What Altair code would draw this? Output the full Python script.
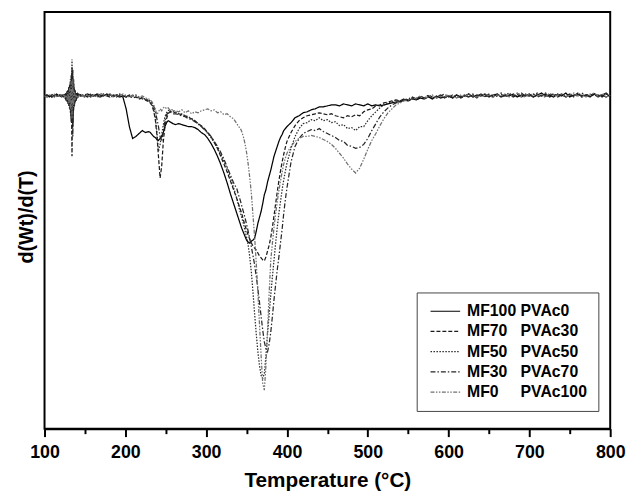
import altair as alt
import pandas as pd

temps = (list(range(100, 125, 3)) + list(range(126, 143)) + list(range(145, 230, 4))
         + list(range(231, 260, 2)) + list(range(262, 339, 4)) + list(range(340, 401, 2))
         + list(range(405, 801, 5)))

# d(Wt)/d(T) in arbitrary units (0 = baseline, negative = mass-loss peak)
mf100 = [1, 2, 0, 2, 1, 3, 1, 2, 2,
         3, -2, 6, -4, 9, -8, 14, -20, 25, -30, 12, -8, 6, -3, 4, 0, 3,
         2, 1, 3, 2, 1, 3, 2, 1, 3, 2, 1, 2, 1, 0, -12, -30, -42, -40, -37, -34, -36, -35,
         -36, -38, -40, -41, -43, -44, -42, -40, -36, -30, -26, -24, -25, -26, -27,
         -28, -27, -28, -29, -30, -30, -31, -33, -36, -38, -42, -47, -53, -60, -68, -77, -87, -98, -108, -118,
         -123, -128, -133, -137, -141, -145, -147, -148, -146, -145, -143, -136, -128, -122, -116, -108,
         -99, -94, -86, -80, -74, -67, -60, -55, -50, -45, -41, -38, -34, -32, -30,
         -26, -21, -19, -16, -15, -13, -12, -10, -10, -9, -8, -8, -9, -7, -8, -9, -7, -8, -9, -7,
         -9, -8, -9, -8, -7, -6, -5, -5, -3, -4, -2, -3, -1, -2, 0, -2, 1, -1, 0, 1,
         -1, 2, 0, 1, 3, 0, 2, 1, 3, 0, 2, 3, 0, 2, 1, 3, 0, 2, 1, 3,
         0, 2, 4, 1, 2, 0, 3, 1, 4, 0, 2, 3, 1, 2, 0, 3, 1, 2, 0, 2]
mf70 = [0, 1, 2, 0, 1, 2, 0, 1, 1,
        -2, 3, -5, 7, -9, 12, -16, 22, -60, 28, -14, 9, -5, 4, -2, 3, 1,
        1, 2, 0, 2, 1, 2, 0, 2, 1, 0, 2, 1, 0, 1, 0, 1, -1, 0, -2, -1, -3, -5,
        -6, -9, -14, -22, -38, -60, -82, -70, -45, -30, -22, -17, -15, -14, -15,
        -16, -17, -18, -19, -21, -22, -24, -27, -29, -32, -36, -40, -46, -52, -60, -68, -76, -85, -94, -103,
        -108, -113, -118, -124, -130, -135, -140, -144, -148, -151, -153, -155, -158, -161, -163, -165,
        -166, -162, -156, -150, -142, -132, -120, -108, -96, -85, -75, -66, -58, -51, -45,
        -36, -29, -24, -21, -19, -18, -17, -16, -17, -18, -17, -19, -20, -21, -19, -20, -18, -19, -15, -13,
        -12, -9, -8, -6, -5, -4, -3, -4, -2, -3, -1, -2, 0, -1, 1, -1, 0, 2, -1, 1,
        0, 2, -1, 1, 0, 2, -1, 3, 1, 2, 0, 1, 3, 0, 2, 1, 3, 0, 2, 1,
        3, 0, 2, 3, 0, 2, 1, 3, 0, 2, 1, 4, 0, 2, 3, 1, 2, 0, 3, 1]
mf50 = [2, 0, 1, 3, 0, 1, 2, 0, 2,
        1, -4, 5, -7, 10, -13, 18, -26, 38, -22, 15, -10, 7, -4, 3, -1, 2,
        2, 0, 1, 3, 2, 0, 1, 3, 2, 1, 0, 2, 3, 1, 2, 0, 1, 2, 0, -1, -2, -3,
        -4, -7, -12, -20, -35, -55, -48, -38, -28, -20, -16, -14, -13, -15, -14,
        -15, -17, -17, -19, -20, -22, -24, -27, -30, -33, -37, -41, -46, -52, -58, -65, -73, -82, -92, -103,
        -110, -116, -122, -128, -135, -142, -150, -162, -178, -198, -220, -240, -258, -272, -282, -285,
        -280, -262, -240, -220, -200, -182, -165, -148, -132, -118, -106, -94, -84, -75, -67,
        -52, -40, -32, -27, -26, -23, -24, -21, -24, -23, -26, -25, -29, -28, -32, -31, -34, -30, -30, -24,
        -19, -15, -11, -8, -6, -5, -3, -4, -2, -3, -1, -2, 0, -1, 1, -1, 0, 2, 0, 1,
        -1, 2, 0, 1, 3, 0, 1, 3, 0, 2, 1, 3, 0, 2, 4, 1, 2, 0, 3, 1,
        2, 4, 1, 0, 2, 3, 1, 2, 0, 3, 1, 3, 0, 2, 1, 4, 0, 2, 3, 1]
mf30 = [1, 2, 1, 0, 2, 1, 3, 1, 0,
        2, -3, 4, -6, 8, -11, 15, -24, 30, -40, 18, -9, 5, -4, 2, 0, 2,
        1, 3, 2, 0, 2, 1, 0, 2, 1, 3, 1, 0, 2, 1, 0, 2, 1, 0, -1, -2, -3, -4,
        -5, -6, -9, -14, -22, -30, -40, -45, -35, -24, -18, -16, -15, -16, -17,
        -17, -18, -19, -20, -22, -23, -25, -27, -30, -33, -36, -40, -45, -50, -56, -63, -71, -79, -87, -93,
        -99, -104, -110, -116, -122, -129, -136, -144, -152, -161, -170, -182, -194, -208, -222, -236,
        -248, -255, -258, -250, -238, -222, -205, -190, -175, -162, -148, -134, -118, -104, -92,
        -66, -50, -42, -37, -35, -33, -34, -32, -35, -37, -39, -41, -44, -45, -49, -50, -52, -51, -48, -42,
        -34, -27, -20, -15, -11, -8, -6, -4, -3, -2, 0, -2, 1, -1, 2, 0, -1, 1, 3, 0,
        2, -1, 1, 2, 0, 3, 1, 2, 0, 3, 1, 2, 4, 1, 3, 0, 2, 4, 1, 2,
        0, 3, 1, 4, 2, 3, 0, 2, 1, 3, 0, 2, 4, 1, 2, 3, 0, 2, 4, 1]
mf0 = [1, 0, 2, 1, 3, 0, 2, 1, 2,
       -1, 2, -3, 5, -6, 9, -12, 16, -22, 18, -10, 6, -3, 2, -1, 1, 2,
       2, 1, 3, 0, 2, 1, 4, 2, 1, 3, 0, 2, 1, 3, 1, 0, 2, 1, 0, 1, -1, -2,
       -3, -5, -8, -12, -18, -15, -12, -14, -11, -10, -12, -11, -13, -12, -14,
       -14, -15, -13, -16, -14, -17, -15, -16, -14, -13, -12, -14, -13, -16, -15, -18, -17, -20, -22, -27,
       -30, -31, -35, -40, -47, -56, -68, -82, -98, -120, -142, -168, -198, -230, -262, -290,
       -297, -272, -236, -198, -165, -148, -132, -118, -106, -95, -85, -76, -68, -62, -57,
       -50, -45, -42, -40, -40, -39, -40, -41, -43, -45, -48, -52, -57, -62, -68, -73, -77, -72, -63, -53,
       -44, -37, -29, -22, -16, -12, -8, -6, -4, -3, -2, -1, 1, -1, 0, 2, -1, 1, 0, 2,
       1, -1, 2, 0, 3, 1, 0, 2, 3, 1, 0, 2, 1, 3, 0, 2, 4, 1, 0, 3,
       2, 1, 3, 0, 4, 1, 2, 3, 0, 2, 4, 1, 3, 0, 2, 4, 1, 3, 0, 2]

names = ["MF100 PVAc0", "MF70\u00a0\u00a0\u00a0PVAc30", "MF50\u00a0\u00a0\u00a0PVAc50",
         "MF30\u00a0\u00a0\u00a0PVAc70", "MF0\u00a0\u00a0\u00a0\u00a0\u00a0PVAc100"]
series = [mf100, mf70, mf50, mf30, mf0]
colors = ["#000000", "#1a1a1a", "#2a2a2a", "#262626", "#707070"]
dashes = [[1, 0], [4, 2], [1.5, 1.5], [5, 2, 1.5, 2], [4, 1.5, 1.5, 1.5, 1.5, 1.5]]

rows = []
for name, vals in zip(names, series):
    if len(vals) != len(temps):
        raise ValueError(f"{name}: {len(vals)} values vs {len(temps)} temps")
    for t, v in zip(temps, vals):
        rows.append({"T": t, "v": v, "series": name})
df = pd.DataFrame(rows)

FONT = "Liberation Sans"
leg = alt.Legend(title=None, orient="none", legendX=377, legendY=284,
                 symbolType="M-1,0H5", symbolSize=100, symbolStrokeWidth=1.2,
                 labelFontSize=16, labelFontWeight="bold", labelFont=FONT, labelColor="black",
                 labelOffset=24, rowPadding=4.5, padding=11, labelLimit=400,
                 strokeColor="#444444", fillColor="white")

chart = alt.Chart(df).mark_line(strokeWidth=1.25).encode(
    x=alt.X("T:Q", scale=alt.Scale(domain=[100, 800], nice=False, zero=False),
            axis=alt.Axis(title="Temperature (°C)", values=list(range(100, 801, 50)),
                          labelExpr="datum.value % 100 == 0 ? datum.label : ''",
                          labelFlush=False, labelOverlap=False, grid=False,
                          tickSize={"condition": {"test": "datum.value % 100 == 0", "value": 8}, "value": 5},
                          tickWidth=2, tickColor="black", domainColor="black", domainWidth=2,
                          labelFontSize=18, labelFontWeight="bold", labelFont=FONT, labelColor="black",
                          labelPadding=7, titleFontSize=21, titleFontWeight="bold", titleFont=FONT,
                          titleColor="black", titlePadding=9)),
    y=alt.Y("v:Q", scale=alt.Scale(domain=[-336, 86], nice=False, zero=False),
            axis=alt.Axis(title="d(Wt)/d(T)", labels=False, ticks=False, domain=False, grid=False,
                          titleFontSize=20, titleFontWeight="bold", titleFont=FONT,
                          titleColor="black", titlePadding=8, titleY=207)),
    color=alt.Color("series:N", scale=alt.Scale(domain=names, range=colors), legend=leg),
    strokeDash=alt.StrokeDash("series:N", scale=alt.Scale(domain=names, range=dashes), legend=leg),
).properties(
    width=573, height=422, autosize="none",
    padding={"left": 37, "top": 1, "right": 16, "bottom": 63},
).configure(font=FONT).configure_view(stroke="black", strokeWidth=2)

chart.save("out.html", embed_options={"renderer": "svg", "actions": False})
